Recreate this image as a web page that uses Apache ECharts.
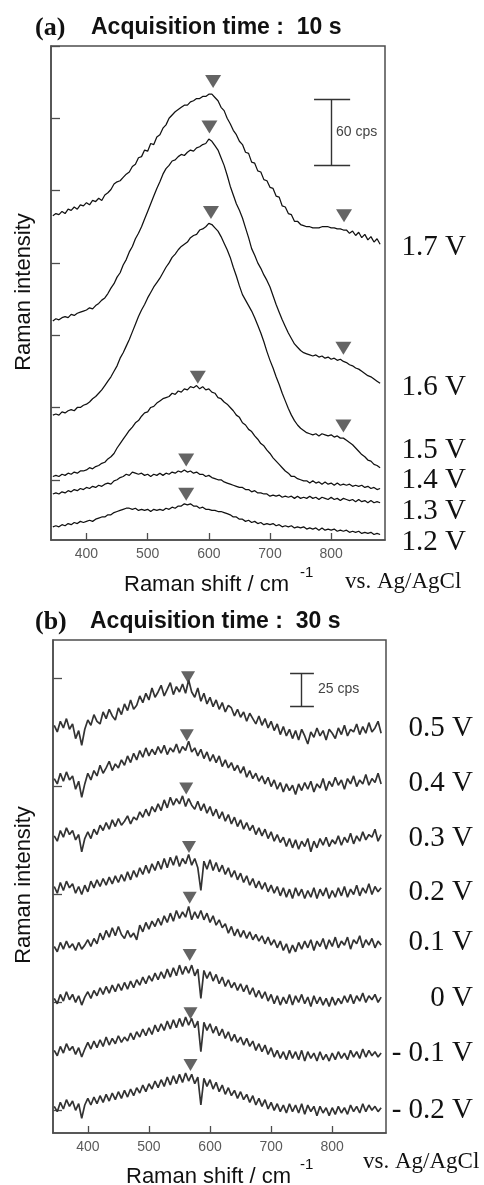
<!DOCTYPE html>
<html><head><meta charset="utf-8">
<script src="https://cdn.jsdelivr.net/npm/echarts@6/dist/echarts.min.js"></script>
<style>html,body{margin:0;padding:0;background:#fff}#c{width:484px;height:1185px}</style>
</head><body><div id="c"></div>
<script>
// Raman shift grid (cm^-1)
const ramanShift = [345,350,355,360,365,370,375,380,385,390,395,400,
405,410,415,420,425,430,435,440,445,450,455,460,
465,470,475,480,485,490,495,500,505,510,515,520,
525,530,535,540,545,550,555,560,565,570,575,580,
585,590,595,600,605,610,615,620,625,630,635,640,
645,650,655,660,665,670,675,680,685,690,695,700,
705,710,715,720,725,730,735,740,745,750,755,760,
765,770,775,780,785,790,795,800,805,810,815,820,
825,830,835,840,845,850,855,860,865,870,875,880];
const shiftTicks = [400,500,600,700,800];

// Panel (a): acquisition 10 s, offset intensities (cps)
const potentialsA = ['1.7 V','1.6 V','1.5 V','1.4 V','1.3 V','1.2 V'];
const a17 = [296,298,297,300,298,302,301,304,302,306,305,308,
306,310,309,312,310,315,317,320,325,327,328,331,
334,336,341,343,349,350,356,355,362,361,368,370,
376,379,385,388,391,393,395,397,397,400,401,403,
403,405,405,407,407,404,401,395,392,385,380,374,
370,364,361,354,353,345,344,337,336,329,328,322,
321,314,313,305,304,298,297,291,291,288,287,286,
286,285,285,285,286,286,286,285,285,284,284,283,
283,280,282,278,281,276,279,274,277,272,275,270];
const a16 = [200,202,201,203,204,203,206,205,207,208,209,210,
212,211,214,216,219,221,225,230,234,240,244,251,
256,263,268,275,280,286,293,300,307,314,321,327,
334,339,342,346,347,350,352,351,354,356,355,358,
359,361,362,366,364,360,356,349,342,333,323,315,
307,301,294,285,276,266,260,253,248,242,237,231,
223,215,208,201,195,189,184,179,176,173,171,170,
169,168,169,167,168,166,167,165,166,164,165,163,
162,160,159,157,156,154,152,150,149,147,145,143];
const a15 = [114,115,114,117,116,118,119,118,121,121,123,124,
126,129,131,134,137,141,145,149,154,159,166,171,
177,183,190,197,204,210,215,221,226,231,235,239,
244,249,253,258,261,265,268,270,272,276,278,279,
283,284,286,289,288,285,282,277,271,265,258,249,
241,232,224,219,214,209,203,196,189,181,172,164,
157,149,142,134,127,120,114,109,105,102,100,98,
97,96,97,95,97,96,95,96,94,95,93,93,
91,89,87,84,81,78,76,73,72,69,68,66];
const a14 = [58,59,58,60,59,61,60,62,61,63,63,64,
66,65,67,68,70,71,74,76,79,84,88,92,
96,100,103,107,109,113,116,117,121,122,125,127,
129,130,131,134,133,136,135,138,137,140,139,141,
138,140,137,138,135,134,130,129,126,124,121,118,
114,112,107,105,101,99,95,92,88,86,82,79,
75,72,69,66,63,61,58,58,56,55,54,54,
52,54,52,53,51,53,51,52,50,52,50,51,
50,51,49,50,49,50,48,49,47,48,46,47];
const a13 = [42,43,42,44,43,45,44,46,45,47,46,48,
47,49,48,50,49,51,52,51,54,55,57,58,
60,59,62,61,60,61,59,60,58,60,59,61,
59,61,60,62,61,63,62,64,62,63,61,62,
60,60,58,59,57,56,55,55,53,52,51,50,
49,48,48,46,46,44,45,43,43,42,42,40,
41,40,41,39,40,39,40,38,40,38,39,38,
40,38,39,37,39,38,37,39,37,38,36,38,
37,36,37,35,37,35,36,34,36,34,35,34];
const a12 = [12,13,12,14,13,15,14,16,15,17,16,17,
18,17,19,20,21,21,23,23,25,26,27,28,
29,29,28,29,27,28,27,28,26,28,27,28,
27,29,28,30,29,31,31,33,32,33,31,31,
29,30,28,28,27,27,26,26,25,24,23,21,
21,19,19,17,18,16,17,15,16,14,15,14,
15,13,14,12,13,12,13,11,12,11,12,10,
11,10,11,9,11,9,10,9,10,8,9,8,
9,7,8,7,8,6,7,6,7,5,6,5];
const seriesA = [a17,a16,a15,a14,a13,a12];
const peakMarksA = [[607,418.5],[821,296],[601,377],[820,175],[603.5,299],[820,104],[582,148.6],[563,73],[563,41.7]];
const scaleBarA = {x:800, from:342, to:402, capLeft:772, capRight:831, label:'60 cps'};
const yTicksA = [55,121,187,253,319,385,451];

// Panel (b): acquisition 30 s
const potentialsB = ['0.5 V','0.4 V','0.3 V','0.2 V','0.1 V','0 V','- 0.1 V','- 0.2 V'];
const b05 = [306,301,309,304,311,303,307,296,302,291,303,310,
306,314,309,307,316,311,318,313,310,319,314,322,
317,325,318,321,328,323,330,325,334,327,331,336,
328,333,338,329,335,331,337,330,340,331,327,334,
324,330,322,327,320,325,318,323,316,321,319,313,
318,312,316,309,315,311,307,313,306,311,304,309,
302,307,299,305,298,303,296,302,295,303,298,292,
301,297,304,298,302,295,303,300,296,304,299,306,
298,303,301,307,299,305,300,308,301,304,309,300];
const b04 = [266,262,270,264,271,265,268,258,264,252,262,270,
265,272,268,276,270,274,279,272,277,274,280,276,
283,278,285,280,287,282,289,283,288,284,290,285,
291,284,289,286,292,285,290,287,294,286,289,283,
288,281,286,279,284,278,283,275,280,274,278,272,
276,270,275,267,272,266,270,264,268,262,267,260,
265,258,263,256,262,257,261,254,262,257,263,258,
264,256,262,259,266,257,264,260,267,261,265,258,
266,262,268,260,265,262,269,261,266,263,270,262];
const b03 = [223,219,227,222,229,224,227,220,224,211,221,226,
221,228,224,231,227,233,228,235,230,236,231,234,
238,232,237,235,241,237,243,238,245,241,247,242,
250,244,252,246,251,247,253,245,251,246,243,249,
242,247,240,245,238,243,236,241,234,239,232,237,
230,235,228,233,227,231,224,229,223,228,221,226,
219,224,218,222,215,221,214,220,213,219,215,221,
211,219,214,221,216,222,215,220,217,223,216,222,
218,225,217,223,219,226,220,224,222,228,219,224];
const b02 = [185,180,188,182,189,184,187,180,185,179,186,181,
189,184,190,185,191,186,192,187,193,188,194,189,
196,190,197,192,199,194,201,195,202,197,204,198,
206,199,207,201,208,200,206,202,209,201,206,199,
182,204,198,205,197,203,196,201,194,199,192,197,
190,195,188,193,186,191,184,189,183,188,181,186,
180,185,178,184,177,183,176,184,178,183,176,182,
177,184,176,183,178,184,176,182,177,184,178,185,
177,183,179,186,178,184,180,187,179,185,181,184];
const b01 = [140,136,143,138,144,139,142,137,143,138,141,145,
140,146,142,150,145,152,147,154,148,155,149,146,
152,147,150,145,156,151,158,153,159,155,161,156,
163,158,165,159,167,161,166,162,170,160,166,161,
167,160,165,158,163,156,160,154,157,150,155,148,
153,147,152,146,151,145,149,144,148,142,147,141,
145,139,144,137,142,135,141,136,143,138,144,139,
145,137,144,140,146,138,145,140,147,139,144,141,
147,138,145,142,148,139,145,141,146,139,144,141];
const b00 = [101,97,104,99,106,100,104,98,103,96,102,106,
101,107,103,109,104,110,105,111,106,112,107,113,
108,114,109,115,111,117,112,118,114,120,115,121,
116,123,117,124,118,126,119,125,120,126,118,123,
101,122,116,121,114,119,112,117,110,115,109,113,
107,112,106,111,104,109,102,107,101,106,99,104,
97,103,96,102,97,104,96,103,98,104,97,102,
95,103,97,102,96,101,95,102,96,101,97,103,
98,104,97,103,99,105,98,103,100,104,98,102];
const bm01 = [62,58,65,60,67,62,65,59,64,57,63,68,
63,69,64,70,65,72,66,71,67,73,68,72,
69,75,70,76,72,78,73,79,74,81,76,82,
77,84,78,85,79,86,80,87,81,86,79,84,
61,83,77,82,75,80,73,78,71,76,69,74,
68,72,66,71,65,69,62,67,61,66,59,64,
57,62,56,61,55,62,56,61,55,62,54,61,
56,60,54,61,55,59,54,60,55,61,56,60,
55,62,57,61,56,63,57,62,58,61,57,60];
const bm02 = [20,16,23,18,25,20,24,17,22,11,21,26,
21,27,22,28,23,29,24,30,25,31,26,32,
27,33,28,34,30,36,31,37,33,39,34,40,
35,42,36,43,37,44,38,45,39,44,37,42,
21,41,35,40,33,38,31,36,29,34,28,32,
26,31,25,29,23,28,21,26,20,25,18,23,
17,22,16,21,15,22,16,21,15,22,14,21,
16,20,13,20,15,19,13,19,14,20,15,19,
14,21,16,20,15,22,16,21,17,20,16,19];
const seriesB = [b05,b04,b03,b02,b01,b00,bm01,bm02];
const peakMarksB = [[564,342],[562,298.5],[561,258.5],[565.6,214.7],[566.7,176.5],[566.7,133.5],[568,89.8],[568,51]];
const scaleBarB = {x:750, from:320, to:345, capLeft:731, capRight:770, label:'25 cps'};
const yTicksB = [17,98,179,260,341];

// ---------- chart ----------
const SANS = 'Liberation Sans, Arial, sans-serif';
const SERIF = 'Liberation Serif, Times New Roman, serif';
const frame = '#4d4d4d';

function xAxisCfg(gi, min, max) {
  return {gridIndex:gi, type:'value', min:min, max:max,
    axisLine:{show:true, onZero:false, lineStyle:{color:frame, width:1.5}},
    axisTick:{show:true, inside:true, length:7, customValues:shiftTicks, lineStyle:{color:frame, width:1.3}},
    axisLabel:{show:true, customValues:shiftTicks, color:'#5a5a5a', fontSize:14, fontFamily:SANS, margin:7},
    splitLine:{show:false}};
}
function yAxisCfg(gi, max, ticks) {
  return {gridIndex:gi, type:'value', min:0, max:max,
    axisLine:{show:true, onZero:false, lineStyle:{color:frame, width:1.5}},
    axisTick:{show:true, inside:true, length:9, customValues:ticks, lineStyle:{color:frame, width:1.3}},
    axisLabel:{show:false}, splitLine:{show:false}};
}
function curve(gi, vals, color, w) {
  return {type:'line', xAxisIndex:gi, yAxisIndex:gi, showSymbol:false, symbol:'none',
    data: ramanShift.map((x,i)=>[x, vals[i]]), lineStyle:{color:color, width:w, join:'bevel'},
    animation:false, silent:true, z:2};
}
function marks(gi, pts, size) {
  return {type:'scatter', xAxisIndex:gi, yAxisIndex:gi, data:pts, symbol:'triangle',
    symbolRotate:180, symbolSize:size, itemStyle:{color:'#3d3d3d'}, animation:false, silent:true, z:3};
}
function bar(gi, sb) {
  return {type:'lines', coordinateSystem:'cartesian2d', xAxisIndex:gi, yAxisIndex:gi,
    data:[{coords:[[sb.x,sb.from],[sb.x,sb.to]]},{coords:[[sb.capLeft,sb.to],[sb.capRight,sb.to]]},{coords:[[sb.capLeft,sb.from],[sb.capRight,sb.from]]}],
    lineStyle:{color:'#333', width:1.4, opacity:1, curveness:0}, animation:false, silent:true, z:3};
}
function txt(t, x, y, font, align, valign, fill, rot) {
  const e = {type:'text', x:x, y:y, silent:true, z:10,
    style:{text:t, font:font, fill:fill||'#111', align:align, textAlign:align, verticalAlign:valign, textVerticalAlign:valign}};
  if (rot) e.rotation = rot;
  return e;
}

const series = [];
seriesA.forEach(v=>series.push(curve(0, v, '#111', 1.25)));
series.push(marks(0, peakMarksA, [16,13]));
series.push(bar(0, scaleBarA));
seriesB.forEach(v=>series.push(curve(1, v, '#333', 1.7)));
series.push(marks(1, peakMarksB, [14,12]));
series.push(bar(1, scaleBarB));

const labelYA = [247,387,450,480,511,542];
const labelYB = [728,783,838,892,942,998,1053,1110];
const graphics = [
  txt('(a)', 35, 28, 'bold 26px '+SERIF, 'left', 'middle'),
  txt('Acquisition time :  10 s', 91, 28, 'bold 23px '+SANS, 'left', 'middle'),
  txt('Raman intensity', 24, 292, '22px '+SANS, 'center', 'middle', '#111', Math.PI/2),
  txt('Raman shift / cm', 124, 585, '22px '+SANS, 'left', 'middle'),
  txt('-1', 300, 573, '15px '+SANS, 'left', 'middle'),
  txt('vs. Ag/AgCl', 345, 582, '23px '+SERIF, 'left', 'middle'),
  txt(scaleBarA.label, 336, 132, '14px '+SANS, 'left', 'middle', '#444'),
  txt('(b)', 35, 622, 'bold 26px '+SERIF, 'left', 'middle'),
  txt('Acquisition time :  30 s', 90, 622, 'bold 23px '+SANS, 'left', 'middle'),
  txt('Raman intensity', 24, 885, '22px '+SANS, 'center', 'middle', '#111', Math.PI/2),
  txt('Raman shift / cm', 126, 1177, '22px '+SANS, 'left', 'middle'),
  txt('-1', 300, 1165, '15px '+SANS, 'left', 'middle'),
  txt('vs. Ag/AgCl', 363, 1162, '23px '+SERIF, 'left', 'middle'),
  txt(scaleBarB.label, 318, 689, '14px '+SANS, 'left', 'middle', '#444')
];
potentialsA.forEach((p,i)=>graphics.push(txt(p, 466, labelYA[i], '29px '+SERIF, 'right', 'middle')));
potentialsB.forEach((p,i)=>graphics.push(txt(p, 473, labelYB[i], '29px '+SERIF, 'right', 'middle')));

const chart = echarts.init(document.getElementById('c'), null, {renderer:'canvas'});
chart.setOption({
  animation:false,
  backgroundColor:'#fff',
  grid:[
    {left:51, top:46, width:334, height:494, show:true, borderColor:frame, borderWidth:1.5, containLabel:false},
    {left:53, top:640, width:333, height:493, show:true, borderColor:frame, borderWidth:1.5, containLabel:false}
  ],
  xAxis:[xAxisCfg(0,342,888), xAxisCfg(1,343,888)],
  yAxis:[yAxisCfg(0,451,yTicksA), yAxisCfg(1,370,yTicksB)],
  series:series,
  graphic:{elements:graphics}
});
</script></body></html>
